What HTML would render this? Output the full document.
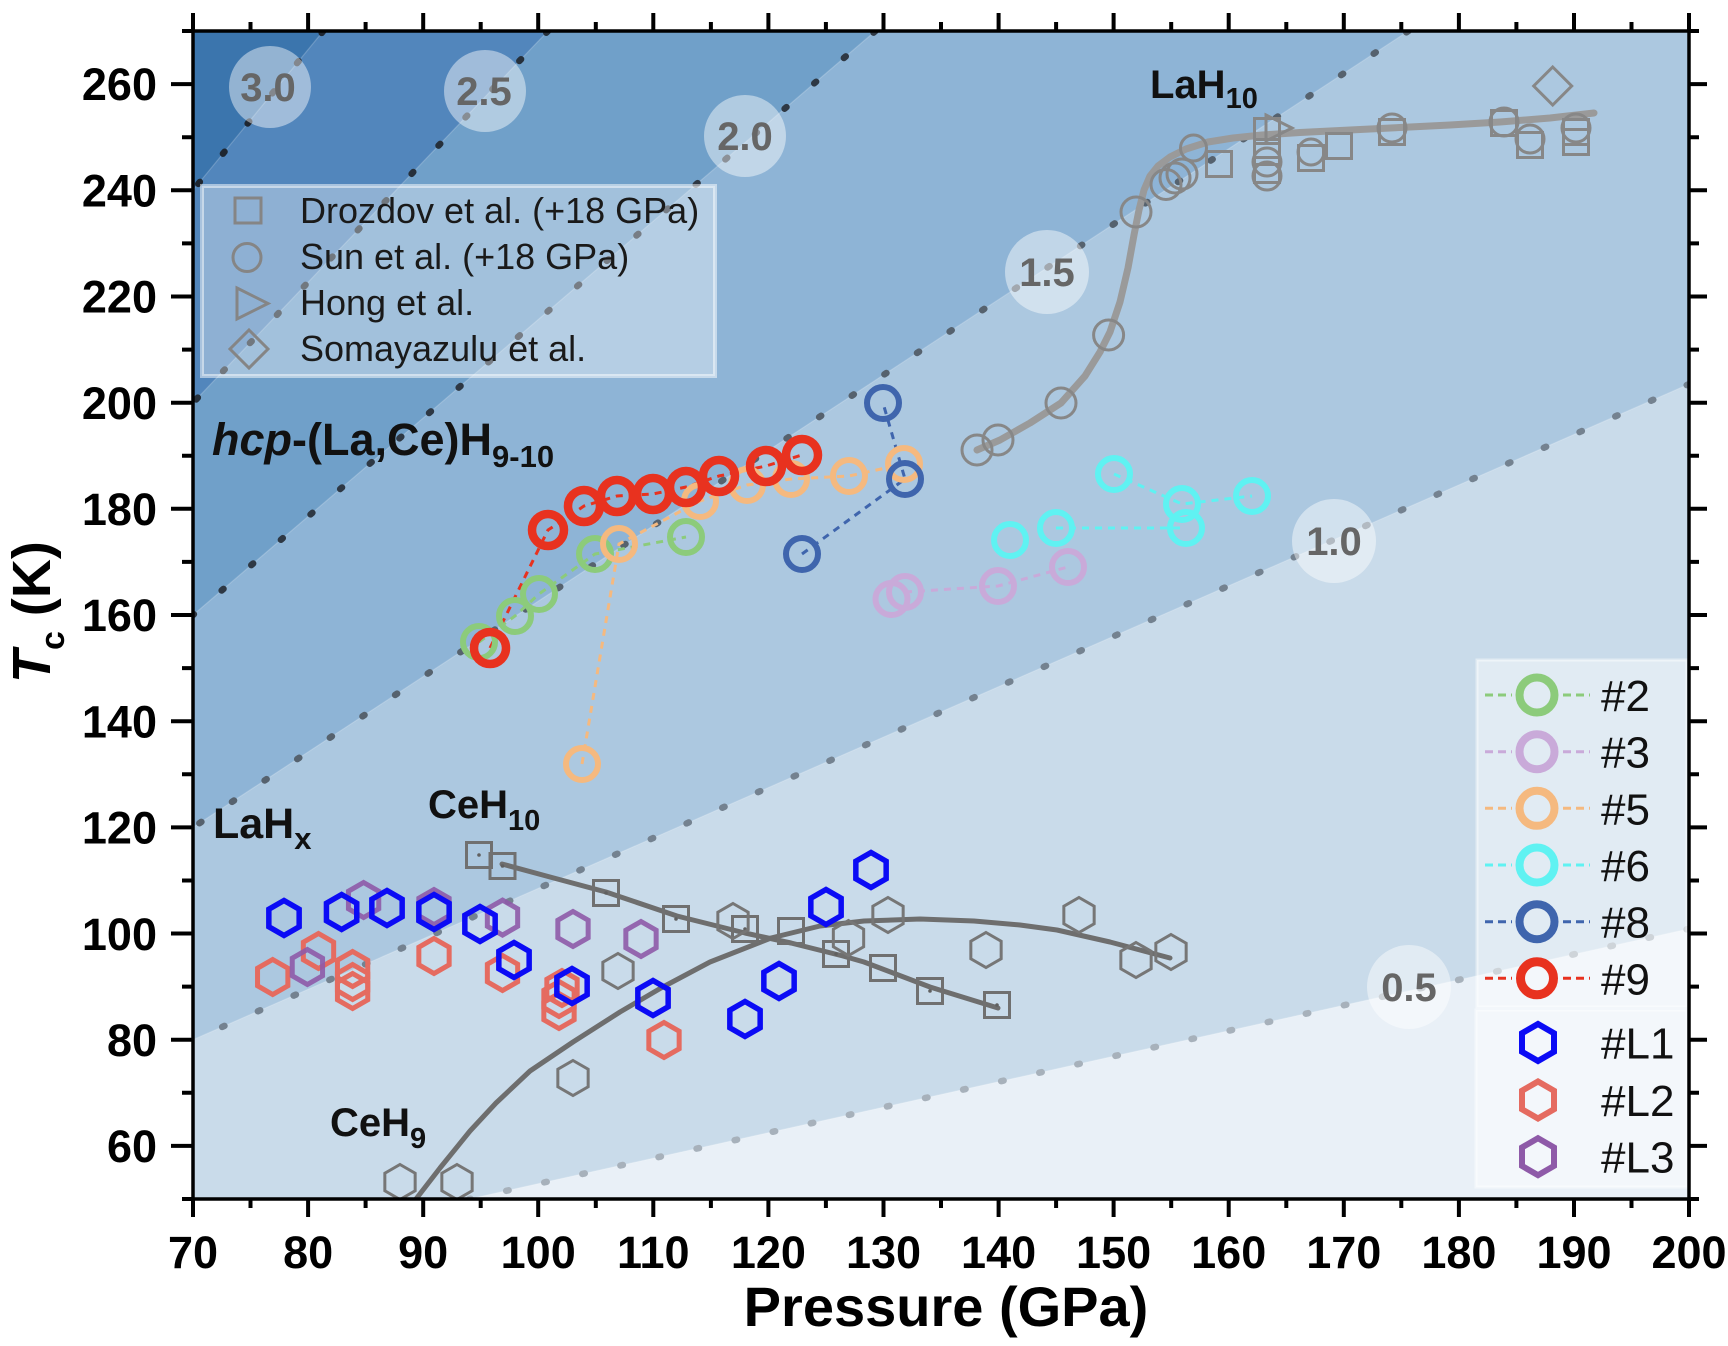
<!DOCTYPE html>
<html><head><meta charset="utf-8"><style>
html,body{margin:0;padding:0;background:#fff;}
svg{display:block;}
text{font-family:"Liberation Sans",Arial,sans-serif;}
</style></head><body>
<svg width="1728" height="1346" viewBox="0 0 1728 1346" xmlns="http://www.w3.org/2000/svg">
<defs>
<polygon id="hx" points="0,-17.5 15.16,-8.75 15.16,8.75 0,17.5 -15.16,8.75 -15.16,-8.75"/>
<polygon id="hxl" points="0,-18.5 16,-9.25 16,9.25 0,18.5 -16,9.25 -16,-9.25"/>
<clipPath id="pa"><rect x="193" y="31" width="1496" height="1168"/></clipPath>
</defs>
<rect width="1728" height="1346" fill="#fff"/>
<g clip-path="url(#pa)">
<rect x="193" y="31" width="1496" height="1168" fill="#e9f0f7"/>
<polygon points="469.2,1199 1689,928.8 1689,31 193,31 193,1199" fill="#c9dbea"/>
<polygon points="193,1039.7 1689,384.1 1689,31 193,31" fill="#acc8e0"/>
<polygon points="193,827.4 1408.4,31 193,31" fill="#8eb4d6"/>
<polygon points="193,615 875.4,31 193,31" fill="#70a0c9"/>
<polygon points="193,402.7 548,31 193,31" fill="#5286bc"/>
<polygon points="193,190.3 323.3,31 193,31" fill="#3b75ad"/>
<g stroke="#fff" stroke-opacity="0.2" stroke-width="1.2">
<line x1="469.2" y1="1199" x2="1689" y2="928.8"/>
<line x1="193" y1="1039.7" x2="1689" y2="384.1"/>
<line x1="193" y1="827.4" x2="1408.4" y2="31"/>
<line x1="193" y1="615" x2="875.4" y2="31"/>
<line x1="193" y1="402.7" x2="548" y2="31"/>
<line x1="193" y1="190.3" x2="323.3" y2="31"/>
</g>
<g stroke-width="6.5" stroke-linecap="round" stroke-dasharray="2.5 36.5" fill="none">
<line x1="1689" y1="928.8" x2="469.2" y2="1199" stroke="#a7b1bb"/>
<line x1="1689" y1="384.1" x2="193" y2="1039.7" stroke="#748290"/>
<line x1="1408.4" y1="31" x2="193" y2="827.4" stroke="#56626e"/>
<line x1="875.4" y1="31" x2="193" y2="615" stroke="#2e3844"/>
<line x1="548" y1="31" x2="193" y2="402.7" stroke="#26303b"/>
<line x1="323.3" y1="31" x2="193" y2="190.3" stroke="#1e2630"/>
</g>
<g fill="#fff" fill-opacity="0.45">
<circle cx="270" cy="87" r="41"/>
<circle cx="485" cy="91" r="41"/>
<circle cx="745" cy="136" r="41"/>
<circle cx="1047" cy="272" r="42"/>
<circle cx="1334" cy="541" r="42"/>
<circle cx="1409" cy="987" r="42"/>
</g>
<g font-size="40" font-weight="bold" fill="#666" text-anchor="middle">
<text x="268" y="101">3.0</text>
<text x="484" y="105">2.5</text>
<text x="745" y="150">2.0</text>
<text x="1047" y="286">1.5</text>
<text x="1334" y="555">1.0</text>
<text x="1409" y="1001">0.5</text>
</g>

<!-- legend 1 -->
<rect x="202" y="186" width="513" height="190" fill="#fff" fill-opacity="0.35" stroke="#fff" stroke-opacity="0.5" stroke-width="4"/>
<g fill="none" stroke="#858585" stroke-width="3">
<rect x="235" y="198" width="26" height="25"/>
<circle cx="247" cy="257.5" r="14"/>
<polygon points="237,288 268,303.5 237,319"/>
<polygon points="249,330 268,349 249,368 230,349"/>
</g>
<g font-size="36" fill="#1a1a1a">
<text x="300" y="223">Drozdov et al. (+18 GPa)</text>
<text x="300" y="269">Sun et al. (+18 GPa)</text>
<text x="300" y="315">Hong et al.</text>
<text x="300" y="361">Somayazulu et al.</text>
</g>

<!-- fits -->
<path d="M977,450 L1000,440 L1030,423 L1061,403 L1085,376 L1100,352 L1110,332 L1120,302 L1128,268 L1134,235 L1139,210 L1144,190 L1150,176 L1158,166 L1170,157 L1186,149 L1208,142 L1233,138 L1262,135 L1300,132.5 L1350,130 L1400,127.5 L1450,125 L1500,122 L1550,118 L1594,113" fill="none" stroke="#9a9a9a" stroke-width="7" stroke-linejoin="round" stroke-linecap="round"/>
<path d="M416,1199 L440,1168 L470,1131 L496,1103 L530,1071 L573,1042 L620,1012 L661,988 L710,962 L771,938 L820,926 L864,921 L920,919 L974,921 L1020,925 L1057,930 L1110,942 L1170,958" fill="none" stroke="#6e6e6e" stroke-width="5" stroke-linejoin="round" stroke-linecap="round"/>
<path d="M502,864 L550,877 L606,892 L677,916 L745,933 L791,943 L843,956 L864,962 L930,987 L998,1008" fill="none" stroke="#6e6e6e" stroke-width="5" stroke-linejoin="round" stroke-linecap="round"/>

<!-- LaH10 markers -->
<g fill="none" stroke="#878787" stroke-width="3">
<circle cx="977" cy="450" r="15"/><circle cx="998" cy="440" r="15"/><circle cx="1061" cy="403" r="15"/>
<circle cx="1108.6" cy="335" r="15"/><circle cx="1136" cy="212" r="15"/><circle cx="1166" cy="184.5" r="15"/>
<circle cx="1175" cy="178" r="15"/><circle cx="1182" cy="174" r="15"/><circle cx="1193.5" cy="148" r="13"/>
<circle cx="1267" cy="162" r="14"/><circle cx="1267" cy="176" r="14"/><circle cx="1311" cy="152" r="13"/>
<circle cx="1392" cy="128" r="14"/><circle cx="1504" cy="122" r="14"/><circle cx="1530" cy="139" r="14"/>
<circle cx="1576" cy="128" r="14"/>
<rect x="1206.5" y="151.5" width="25" height="25"/><rect x="1254.5" y="118.5" width="25" height="25"/>
<rect x="1254.5" y="139.5" width="25" height="25"/><rect x="1254.5" y="157.5" width="25" height="25"/>
<rect x="1298.5" y="145.5" width="25" height="25"/><rect x="1326.5" y="133.5" width="25" height="25"/>
<rect x="1379.5" y="119.5" width="25" height="25"/><rect x="1491.5" y="110.5" width="25" height="25"/>
<rect x="1517.5" y="132.5" width="25" height="25"/><rect x="1563.5" y="119.5" width="25" height="25"/>
<rect x="1563.5" y="129.5" width="25" height="25"/>
<polygon points="1266,115 1292,128 1266,141"/>
<polygon points="1552.7,67 1571.7,86 1552.7,105 1533.7,86"/>
</g>

<!-- CeH10 squares -->
<g fill="none" stroke="#707070" stroke-width="3">
<rect x="466.5" y="842.5" width="25" height="25"/><rect x="490" y="853.5" width="25" height="25"/>
<rect x="593.5" y="880.5" width="25" height="25"/><rect x="663.5" y="906.5" width="25" height="25"/>
<rect x="732.5" y="916.5" width="25" height="25"/><rect x="778.5" y="918.5" width="25" height="25"/>
<rect x="823.5" y="941.5" width="25" height="25"/><rect x="870.5" y="955.5" width="25" height="25"/>
<rect x="917.5" y="978.5" width="25" height="25"/><rect x="984.5" y="992.5" width="25" height="25"/>
</g>
<g fill="#606060">
<circle cx="479" cy="855" r="1.8"/><circle cx="502.5" cy="866" r="1.8"/><circle cx="606" cy="893" r="1.8"/>
<circle cx="676" cy="919" r="1.8"/><circle cx="745" cy="929" r="1.8"/><circle cx="836" cy="954" r="1.8"/>
<circle cx="930" cy="991" r="1.8"/><circle cx="997" cy="1005" r="1.8"/>
</g>
<!-- CeH9 gray hexes -->
<g fill="none" stroke="#767676" stroke-width="3">
<use href="#hx" x="400" y="1182"/><use href="#hx" x="457" y="1182"/><use href="#hx" x="573" y="1078"/>
<use href="#hx" x="618" y="971"/><use href="#hx" x="733" y="921"/><use href="#hx" x="848.5" y="938"/>
<use href="#hx" x="888" y="915"/><use href="#hx" x="986" y="950"/><use href="#hx" x="1079" y="915"/>
<use href="#hx" x="1136" y="960"/><use href="#hx" x="1171" y="952"/>
</g>
<!-- L2 salmon -->
<g fill="none" stroke="#e56b60" stroke-width="5">
<use href="#hx" x="272.7" y="977"/><use href="#hx" x="318.5" y="951"/><use href="#hx" x="352.6" y="969"/>
<use href="#hx" x="352.6" y="982"/><use href="#hx" x="352.6" y="991"/><use href="#hx" x="434" y="956"/>
<use href="#hx" x="502.5" y="973"/><use href="#hx" x="559" y="999"/><use href="#hx" x="559" y="1011"/>
<use href="#hx" x="562" y="988"/><use href="#hx" x="664" y="1040"/>
</g>
<!-- L3 purple -->
<g fill="none" stroke="#8e5aa8" stroke-width="5" stroke-opacity="0.9">
<use href="#hx" x="363.6" y="900"/><use href="#hx" x="307.4" y="967"/><use href="#hx" x="434" y="907"/>
<use href="#hx" x="502.5" y="917.6"/><use href="#hx" x="573" y="929"/><use href="#hx" x="641" y="939"/>
</g>
<!-- L1 blue -->
<g fill="none" stroke="#0b0bf5" stroke-width="5.5">
<use href="#hx" x="284" y="918"/><use href="#hx" x="341.6" y="912"/><use href="#hx" x="387" y="908"/>
<use href="#hx" x="434" y="912"/><use href="#hx" x="480" y="924"/><use href="#hx" x="514" y="960"/>
<use href="#hx" x="572" y="986"/><use href="#hx" x="653" y="998"/><use href="#hx" x="745" y="1019"/>
<use href="#hx" x="779" y="981"/><use href="#hx" x="826" y="907"/><use href="#hx" x="871" y="870"/>
</g>

<!-- dashed series lines -->
<g fill="none" stroke-width="3" stroke-dasharray="7 6">
<polyline points="479,642 515,616 539,594 595,554 686,537" stroke="#8ccb7b"/>
<polyline points="905,592 998,586 1068,567" stroke="#c9aad9"/>
<polyline points="582,764 619,544 700,501 747,485 791,479 849,476 904,464" stroke="#f5b97f"/>
<polyline points="1056,528 1186,528" stroke="#5ff2f2"/>
<polyline points="1114,474 1182,504 1252,496" stroke="#5ff2f2"/>
<polyline points="802,554 905,479 883,403" stroke="#3f65ad"/>
<polyline points="490,648 548,530 584,506 617,496 653,494 686,487 719,476 766,466 802,455" stroke="#e8321f"/>
</g>
<!-- series circles -->
<g fill="none" stroke-width="6">
<g stroke="#c9aad9"><circle cx="891.5" cy="599" r="16"/><circle cx="905" cy="592" r="16"/><circle cx="998" cy="586" r="16"/><circle cx="1068" cy="567" r="16"/></g>
<g stroke="#5ff2f2"><circle cx="1010" cy="540" r="16"/><circle cx="1056" cy="528" r="16"/><circle cx="1114" cy="474" r="16"/><circle cx="1182" cy="504" r="16"/><circle cx="1186" cy="528" r="16"/><circle cx="1252" cy="496" r="16"/></g>
<g stroke="#8ccb7b"><circle cx="479" cy="642" r="16"/><circle cx="515" cy="616" r="16"/><circle cx="539" cy="594" r="16"/><circle cx="595" cy="554" r="16"/><circle cx="686" cy="537" r="16"/></g>
<g stroke="#f5b97f"><circle cx="582" cy="764" r="16"/><circle cx="619" cy="544" r="16"/><circle cx="700" cy="501" r="16"/><circle cx="747" cy="485" r="16"/><circle cx="791" cy="479" r="16"/><circle cx="849" cy="476" r="16"/><circle cx="904" cy="464" r="16"/></g>
<g stroke="#3f65ad"><circle cx="802" cy="554" r="16"/><circle cx="883" cy="403" r="16"/><circle cx="905" cy="479" r="16"/></g>
<g stroke="#e8321f" stroke-width="8.5"><circle cx="490" cy="648" r="16"/><circle cx="548" cy="530" r="16"/><circle cx="584" cy="506" r="16"/><circle cx="617" cy="496" r="16"/><circle cx="653" cy="494" r="16"/><circle cx="686" cy="487" r="16"/><circle cx="719" cy="476" r="16"/><circle cx="766" cy="466" r="16"/><circle cx="802" cy="455" r="16"/></g>
</g>

<!-- legend 2 -->
<rect x="1477" y="660" width="210" height="347" fill="#fff" fill-opacity="0.45" stroke="#fff" stroke-opacity="0.45" stroke-width="3"/>
<rect x="1476" y="1010" width="211" height="177" fill="#fff" fill-opacity="0.45" stroke="#fff" stroke-opacity="0.45" stroke-width="3"/>
<g fill="none" stroke-width="3" stroke-dasharray="8 5">
<path d="M1485,695 H1512 M1563,695 H1590" stroke="#8ccb7b"/>
<path d="M1485,751.7 H1512 M1563,751.7 H1590" stroke="#c9aad9"/>
<path d="M1485,808.3 H1512 M1563,808.3 H1590" stroke="#f5b97f"/>
<path d="M1485,865 H1512 M1563,865 H1590" stroke="#5ff2f2"/>
<path d="M1485,921.7 H1512 M1563,921.7 H1590" stroke="#3f65ad"/>
<path d="M1485,978.3 H1512 M1563,978.3 H1590" stroke="#e8321f"/>
</g>
<g fill="none" stroke-width="8">
<circle cx="1537" cy="695" r="17.5" stroke="#8ccb7b"/>
<circle cx="1537" cy="751.7" r="17.5" stroke="#c9aad9"/>
<circle cx="1537" cy="808.3" r="17.5" stroke="#f5b97f"/>
<circle cx="1537" cy="865" r="17.5" stroke="#5ff2f2"/>
<circle cx="1537" cy="921.7" r="17.5" stroke="#3f65ad"/>
<circle cx="1537" cy="978.3" r="16.5" stroke="#e8321f" stroke-width="9"/>
</g>
<g fill="none" stroke-width="6">
<use href="#hxl" x="1538" y="1042.5" stroke="#0b0bf5"/>
<use href="#hxl" x="1538" y="1100" stroke="#e56b60"/>
<use href="#hxl" x="1538" y="1156.7" stroke="#8e5aa8"/>
</g>
<g font-size="44" fill="#111">
<text x="1601" y="711">#2</text>
<text x="1601" y="767.7">#3</text>
<text x="1601" y="824.3">#5</text>
<text x="1601" y="881">#6</text>
<text x="1601" y="937.7">#8</text>
<text x="1601" y="994.3">#9</text>
<text x="1601" y="1058.5">#L1</text>
<text x="1601" y="1116">#L2</text>
<text x="1601" y="1172.7">#L3</text>
</g>
</g>

<!-- in-plot labels -->
<g font-weight="bold" fill="#111">
<text x="1150" y="98" font-size="40">LaH<tspan font-size="29" dy="10">10</tspan></text>
<text x="212" y="455" font-size="45"><tspan font-style="italic">hcp</tspan>-(La,Ce)H<tspan font-size="31" dy="12">9-10</tspan></text>
<text x="213" y="838" font-size="43">LaH<tspan font-size="31" dy="11">x</tspan></text>
<text x="428" y="818" font-size="40">CeH<tspan font-size="29" dy="12">10</tspan></text>
<text x="330" y="1136" font-size="40">CeH<tspan font-size="29" dy="12">9</tspan></text>
</g>

<!-- axes -->
<rect x="193" y="31" width="1496" height="1168" fill="none" stroke="#000" stroke-width="3.5"/>
<g stroke="#000" stroke-width="4" fill="none">
<path d="M171,1145.9H193 M171,1039.7H193 M171,933.5H193 M171,827.4H193 M171,721.2H193 M171,615H193 M171,508.8H193 M171,402.7H193 M171,296.5H193 M171,190.3H193 M171,84.1H193"/>
<path d="M182,1199H193 M182,1092.8H193 M182,986.6H193 M182,880.5H193 M182,774.3H193 M182,668.1H193 M182,561.9H193 M182,455.8H193 M182,349.6H193 M182,243.4H193 M182,137.2H193 M182,31H193"/>
<path d="M1689,1145.9H1707 M1689,1039.7H1707 M1689,933.5H1707 M1689,827.4H1707 M1689,721.2H1707 M1689,615H1707 M1689,508.8H1707 M1689,402.7H1707 M1689,296.5H1707 M1689,190.3H1707 M1689,84.1H1707"/>
<path d="M1689,1199H1699 M1689,1092.8H1699 M1689,986.6H1699 M1689,880.5H1699 M1689,774.3H1699 M1689,668.1H1699 M1689,561.9H1699 M1689,455.8H1699 M1689,349.6H1699 M1689,243.4H1699 M1689,137.2H1699 M1689,31H1699"/>
<path d="M193,1199V1217 M308.1,1199V1217 M423.2,1199V1217 M538.2,1199V1217 M653.3,1199V1217 M768.4,1199V1217 M883.5,1199V1217 M998.6,1199V1217 M1113.6,1199V1217 M1228.7,1199V1217 M1343.8,1199V1217 M1458.9,1199V1217 M1574,1199V1217 M1689,1199V1217"/>
<path d="M250.5,1199V1208 M365.6,1199V1208 M480.7,1199V1208 M595.8,1199V1208 M710.9,1199V1208 M825.9,1199V1208 M941,1199V1208 M1056.1,1199V1208 M1171.2,1199V1208 M1286.3,1199V1208 M1401.3,1199V1208 M1516.4,1199V1208 M1631.5,1199V1208"/>
<path d="M193,31V13 M308.1,31V13 M423.2,31V13 M538.2,31V13 M653.3,31V13 M768.4,31V13 M883.5,31V13 M998.6,31V13 M1113.6,31V13 M1228.7,31V13 M1343.8,31V13 M1458.9,31V13 M1574,31V13 M1689,31V13"/>
<path d="M250.5,31V22 M365.6,31V22 M480.7,31V22 M595.8,31V22 M710.9,31V22 M825.9,31V22 M941,31V22 M1056.1,31V22 M1171.2,31V22 M1286.3,31V22 M1401.3,31V22 M1516.4,31V22 M1631.5,31V22"/>
</g>
<g font-size="45" font-weight="bold" fill="#000" text-anchor="end">
<text x="157" y="1162">60</text>
<text x="157" y="1056">80</text>
<text x="157" y="950">100</text>
<text x="157" y="843.5">120</text>
<text x="157" y="737.5">140</text>
<text x="157" y="631">160</text>
<text x="157" y="525">180</text>
<text x="157" y="419">200</text>
<text x="157" y="312.5">220</text>
<text x="157" y="206.5">240</text>
<text x="157" y="100">260</text>
</g>
<g font-size="45" font-weight="bold" fill="#000" text-anchor="middle">
<text x="193" y="1268">70</text>
<text x="308.1" y="1268">80</text>
<text x="423.2" y="1268">90</text>
<text x="538.2" y="1268">100</text>
<text x="653.3" y="1268">110</text>
<text x="768.4" y="1268">120</text>
<text x="883.5" y="1268">130</text>
<text x="998.6" y="1268">140</text>
<text x="1113.6" y="1268">150</text>
<text x="1228.7" y="1268">160</text>
<text x="1343.8" y="1268">170</text>
<text x="1458.9" y="1268">180</text>
<text x="1574" y="1268">190</text>
<text x="1689" y="1268">200</text>
</g>
<text x="946" y="1326" font-size="56" font-weight="bold" text-anchor="middle" fill="#000">Pressure (GPa)</text>
<text transform="translate(50,683) rotate(-90)" font-size="54" font-weight="bold" fill="#000"><tspan font-style="italic">T</tspan><tspan font-size="34" dy="14">c</tspan><tspan dy="-14"> (K)</tspan></text>
</svg>
</body></html>
